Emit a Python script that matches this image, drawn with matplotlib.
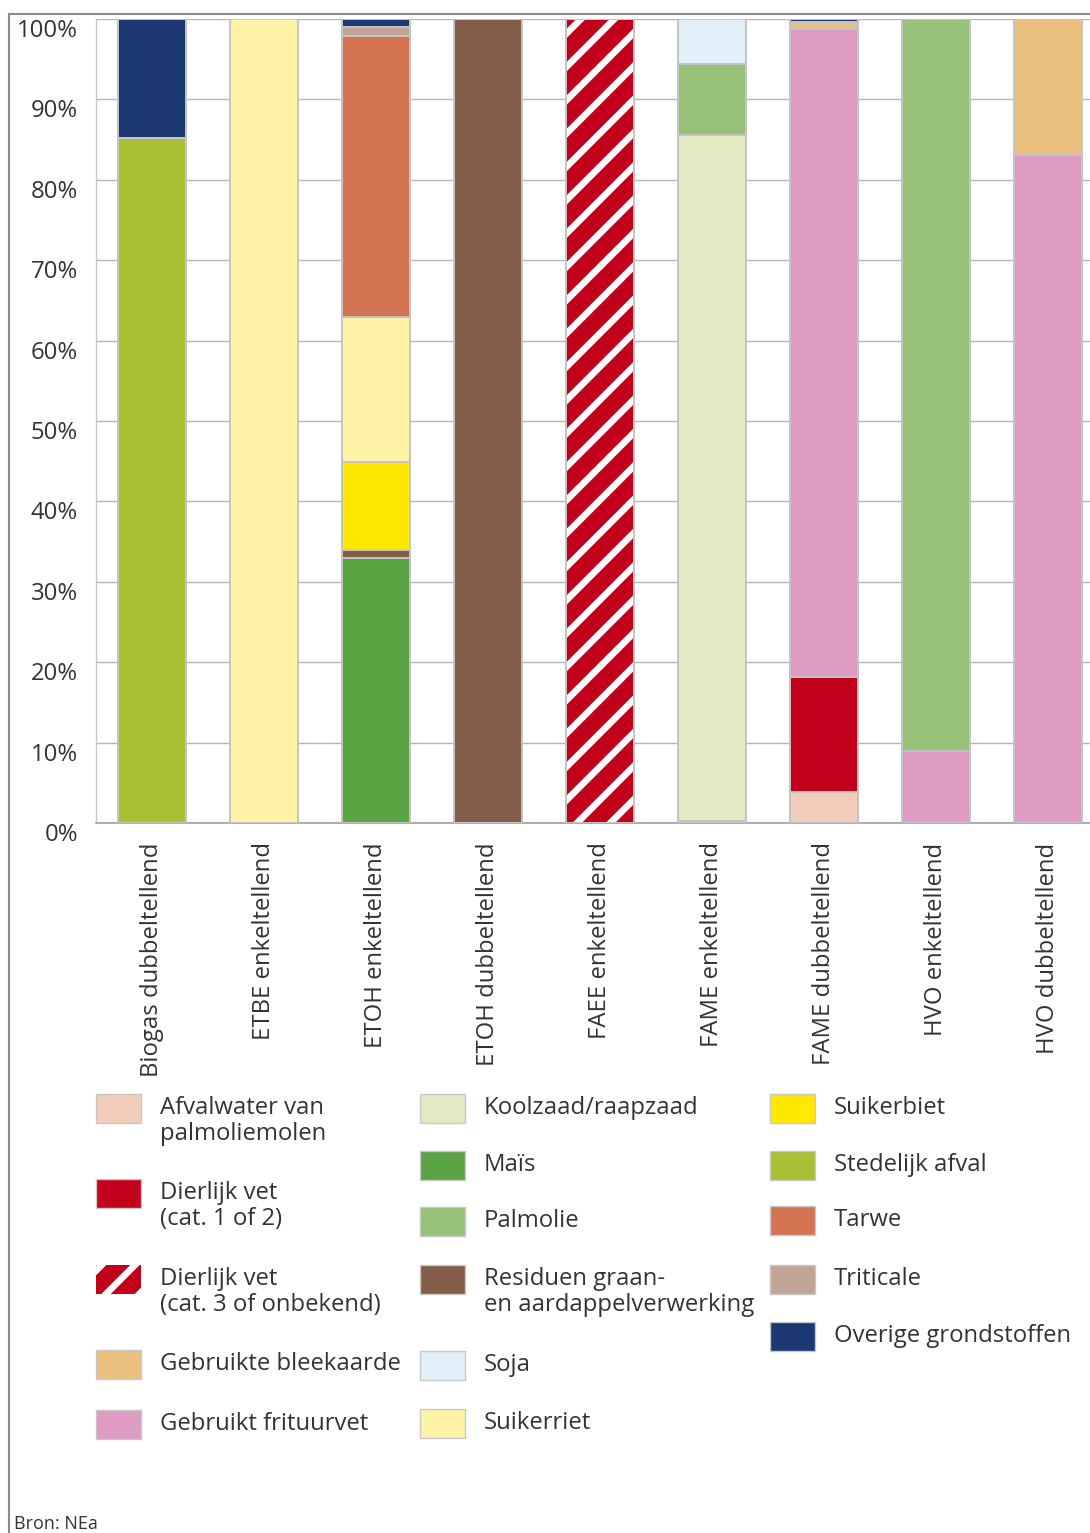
import matplotlib.pyplot as plt
from matplotlib.patches import Rectangle
from matplotlib.lines import Line2D
from matplotlib.transforms import ScaledTranslation
import numpy as np

plt.rcParams['font.family'] = ['Open Sans', 'DejaVu Sans']
plt.rcParams['hatch.linewidth'] = 2.4

# data (percent of each product), stacked bottom-up in this order
categories = ['Biogas dubbeltellend', 'ETBE enkeltellend', 'ETOH enkeltellend',
              'ETOH dubbeltellend', 'FAEE enkeltellend', 'FAME enkeltellend',
              'FAME dubbeltellend', 'HVO enkeltellend', 'HVO dubbeltellend']

afvalwater     = [0, 0, 0, 0, 0, 0, 3.9, 0, 0]
dierlijk_12    = [0, 0, 0, 0, 0, 0, 14.2, 0, 0]
dierlijk_3     = [0, 0, 0, 0, 100, 0, 0, 0, 0]
frituurvet     = [0, 0, 0, 0, 0, 0.3, 80.7, 9.0, 83.1]
bleekaarde     = [0, 0, 0, 0, 0, 0, 0.8, 0, 16.9]
koolzaad       = [0, 0, 0, 0, 0, 85.3, 0, 0, 0]
mais           = [0, 0, 33.0, 0, 0, 0, 0, 0, 0]
palmolie       = [0, 0, 0, 0, 0, 8.8, 0, 91.0, 0]
residuen       = [0, 0, 1.0, 100, 0, 0, 0, 0, 0]
soja           = [0, 0, 0, 0, 0, 5.6, 0, 0, 0]
stedelijk      = [85.2, 0, 0, 0, 0, 0, 0, 0, 0]
suikerbiet     = [0, 0, 10.9, 0, 0, 0, 0, 0, 0]
suikerriet     = [0, 100, 18.0, 0, 0, 0, 0, 0, 0]
tarwe          = [0, 0, 35.0, 0, 0, 0, 0, 0, 0]
triticale      = [0, 0, 1.1, 0, 0, 0, 0, 0, 0]
overige        = [14.8, 0, 1.0, 0, 0, 0, 0.4, 0, 0]

stack = [
    ('afvalwater', afvalwater, '#F2CDB9'),
    ('dierlijk_12', dierlijk_12, '#C3001B'),
    ('dierlijk_3', dierlijk_3, 'hatch'),
    ('frituurvet', frituurvet, '#DE9CC4'),
    ('bleekaarde', bleekaarde, '#EBC07E'),
    ('koolzaad', koolzaad, '#E3EAC3'),
    ('mais', mais, '#5BA444'),
    ('palmolie', palmolie, '#98C17A'),
    ('residuen', residuen, '#845D48'),
    ('soja', soja, '#E2F0F9'),
    ('stedelijk', stedelijk, '#AABF33'),
    ('suikerbiet', suikerbiet, '#FFE800'),
    ('suikerriet', suikerriet, '#FFF3A7'),
    ('tarwe', tarwe, '#D47453'),
    ('triticale', triticale, '#C2A497'),
    ('overige', overige, '#1C3872'),
]

legend_cols = [
    [('Afvalwater van\npalmoliemolen', '#F2CDB9'), ('Dierlijk vet\n(cat. 1 of 2)', '#C3001B'),
     ('Dierlijk vet\n(cat. 3 of onbekend)', 'hatch'), ('Gebruikte bleekaarde', '#EBC07E'),
     ('Gebruikt frituurvet', '#DE9CC4')],
    [('Koolzaad/raapzaad', '#E3EAC3'), ('Maïs', '#5BA444'), ('Palmolie', '#98C17A'),
     ('Residuen graan-\nen aardappelverwerking', '#845D48'), ('Soja', '#E2F0F9'),
     ('Suikerriet', '#FFF3A7')],
    [('Suikerbiet', '#FFE800'), ('Stedelijk afval', '#AABF33'), ('Tarwe', '#D47453'),
     ('Triticale', '#C2A497'), ('Overige grondstoffen', '#1C3872')],
]

W, H = 1090, 1533
fig = plt.figure(figsize=(W / 200, H / 200), dpi=200)
ax = fig.add_axes([96 / W, 1 - 823 / H, 1008 / W, 804 / H])

red = '#C3001B'
edge = '#C4C4C4'
x = np.arange(len(categories))
bottom = np.zeros(len(categories))
for name, vals, col in stack:
    vals = np.array(vals)
    if col == 'hatch':
        ax.bar(x, vals, 0.6, bottom=bottom, color=red, edgecolor='white',
               hatch='//', linewidth=0, zorder=3)
        ax.bar(x, vals, 0.6, bottom=bottom, color='none', edgecolor=edge,
               linewidth=0.7, zorder=4)
    else:
        ax.bar(x, vals, 0.6, bottom=bottom, color=col, edgecolor=edge,
               linewidth=0.7, zorder=3)
    bottom += vals

ax.set_xlim(-0.5, len(categories) - 0.5)
ax.set_ylim(0, 100)
ax.set_yticks(np.arange(0, 101, 10))
ax.set_yticklabels([f'{v}%' for v in range(0, 101, 10)])
ax.set_xticks(x)
ax.set_xticklabels(categories, rotation=90, va='top', ha='center')
ax.tick_params(length=0, labelsize=8.6, labelcolor='#333333')
ax.tick_params(axis='y', pad=6.5)
ax.tick_params(axis='x', pad=7)
# y labels sit a little below their gridline
shift = ScaledTranslation(0, -9 / 200, fig.dpi_scale_trans)
for lab in ax.get_yticklabels():
    lab.set_transform(lab.get_transform() + shift)
ax.yaxis.grid(True, color='#B5B5B5', linewidth=0.5, zorder=0)
ax.set_axisbelow(True)
for s in ['top', 'right']:
    ax.spines[s].set_visible(False)
ax.spines['left'].set_color('#C8C8C8')
ax.spines['left'].set_linewidth(0.5)
ax.spines['bottom'].set_color('#A0A0A0')
ax.spines['bottom'].set_linewidth(0.6)

# outer frame
fig.add_artist(Line2D([8.5 / W, 8.5 / W], [0, 1 - 14 / H], color='#8A8A8A', lw=0.75))
fig.add_artist(Line2D([8.5 / W, 1], [1 - 14 / H, 1 - 14 / H], color='#8A8A8A', lw=0.75))

# legend, drawn by hand
col_x = [96, 420, 770]
row_y = [[1094, 1179, 1265, 1350, 1410],
         [1094, 1151, 1207, 1265, 1351, 1409],
         [1094, 1151, 1206, 1265, 1322]]
for cx, ys, items in zip(col_x, row_y, legend_cols):
    for y, (label, col) in zip(ys, items):
        rx, ry = cx / W, 1 - (y + 29) / H
        rw, rh = 45 / W, 29 / H
        if col == 'hatch':
            fig.add_artist(Rectangle((rx, ry), rw, rh, transform=fig.transFigure,
                                     facecolor=red, edgecolor='white', hatch='//', lw=0))
        else:
            fig.add_artist(Rectangle((rx, ry), rw, rh, transform=fig.transFigure,
                                     facecolor=col, edgecolor='#C8C8C8', lw=0.5))
        fig.text((cx + 64) / W, 1 - (y + 2) / H, label, fontsize=8.6, color='#333333',
                 va='top', ha='left', linespacing=1.1)

fig.text(14 / W, 1 - 1515 / H, 'Bron: NEa', fontsize=6.5, color='#333333', va='top')

fig.savefig('out.png', dpi=200)
